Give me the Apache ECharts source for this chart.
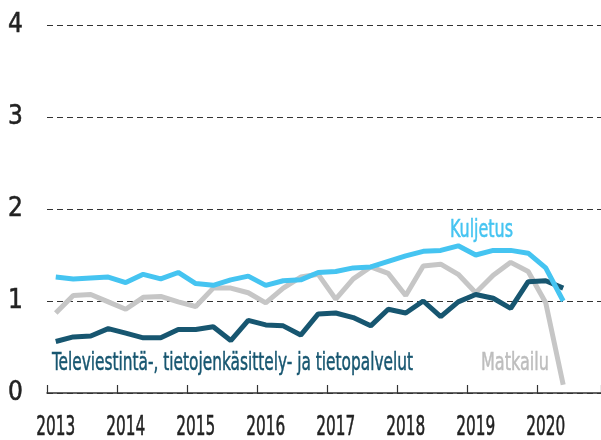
<!DOCTYPE html>
<html><head><meta charset="utf-8">
<script src="https://cdn.jsdelivr.net/npm/echarts@6/dist/echarts.min.js"></script>
<style>html,body{margin:0;padding:0;background:#fff}#c{width:601px;height:440px}</style>
</head><body><div id="c"></div>
<script>
// ---- data (quarterly, 2013Q1 .. 2020Q2) ----
const years = ['2013','2014','2015','2016','2017','2018','2019','2020'];
const yTicks = [0, 1, 2, 3, 4];
const kuljetus = [1.26,1.24,1.25,1.26,1.20,1.29,1.24,1.31,1.19,1.17,1.23,1.27,1.17,1.22,1.23,1.31,
                  1.32,1.36,1.37,1.43,1.49,1.54,1.55,1.60,1.50,1.55,1.55,1.52,1.36,1.00];
const televiestinta = [0.56,0.61,0.62,0.70,0.65,0.60,0.60,0.69,0.69,0.72,0.57,0.79,0.74,0.73,0.63,0.86,
                       0.87,0.82,0.73,0.91,0.87,1.00,0.83,0.99,1.07,1.03,0.92,1.21,1.22,1.14];
const matkailu = [0.87,1.06,1.07,0.99,0.91,1.04,1.05,0.99,0.94,1.14,1.14,1.09,0.98,1.14,1.26,1.29,
                  1.02,1.24,1.37,1.30,1.06,1.38,1.40,1.29,1.09,1.28,1.42,1.32,0.98,0.09];
const names = ['Kuljetus', 'Televiestintä-, tietojenkäsittely- ja tietopalvelut', 'Matkailu'];

const FONT = "'Liberation Sans Narrow','DejaVu Sans Condensed','Roboto Condensed','Liberation Sans',sans-serif";
const C_BLUE = '#45c4f1', C_DARK = '#175670', C_GREY = '#c6c6c6';

const toXY = arr => arr.map((v, i) => [i + 0.5, v]);

const measure = (txt, size) => {
  const ctx = document.createElement('canvas').getContext('2d');
  ctx.font = size + 'px ' + FONT;
  return ctx.measureText(txt).width;
};
const label = (txt, x, mid, width, color, size, align) => ({
  type: 'text', x: x, y: mid, scaleX: width / measure(txt, size), z: 100,
  style: { text: txt, fill: color, stroke: color, lineWidth: 0.5,
           font: size + 'px ' + FONT, verticalAlign: 'middle', align: align || 'left' }
});

const chart = echarts.init(document.getElementById('c'), null, { renderer: 'canvas' });
chart.setOption({
  animation: false,
  backgroundColor: '#fff',
  grid: { left: 47, right: 0, top: 25, bottom: 47 },
  xAxis: {
    type: 'value', min: 0, max: 31.66, interval: 4,
    axisLine: { show: true, lineStyle: { color: '#333', width: 1.5 } },
    axisTick: { show: true, inside: true, length: 8, lineStyle: { color: '#333', width: 1.2 } },
    splitLine: { show: false },
    axisLabel: { show: false }
  },
  yAxis: {
    type: 'value', min: 0, max: 4, interval: 1,
    axisLine: { show: false }, axisTick: { show: false },
    splitLine: { show: true, lineStyle: { color: '#333', width: 1, type: [6, 4] } },
    axisLabel: { color: '#222', fontSize: 26, fontFamily: FONT, margin: 24,
      textBorderColor: '#222', textBorderWidth: 0.5,
      formatter: v => yTicks.includes(v) ? String(v) : '' }
  },
  series: [
    { name: names[2], type: 'line', data: toXY(matkailu), showSymbol: false, symbol: 'none',
      lineStyle: { color: C_GREY, width: 5 }, z: 2 },
    { name: names[1], type: 'line', data: toXY(televiestinta), showSymbol: false, symbol: 'none',
      lineStyle: { color: C_DARK, width: 5 }, z: 3 },
    { name: names[0], type: 'line', data: toXY(kuljetus), showSymbol: false, symbol: 'none',
      lineStyle: { color: C_BLUE, width: 5 }, z: 4 }
  ]
});

// year labels: placed under the first quarter of each year, via the axis scale
const yearLabels = years.map((y, k) => {
  const px = chart.convertToPixel({ xAxisIndex: 0 }, 4 * k + 0.5);
  return label(y, px, 427.5, 39, '#222', 27, 'center');
});
chart.setOption({
  graphic: [
    label(names[0], 450, 231, 63, C_BLUE, 24),
    label(names[1], 52, 363, 361, C_DARK, 25),
    label(names[2], 481, 363, 68, '#bdbdbd', 25)
  ].concat(yearLabels)
});
</script></body></html>
